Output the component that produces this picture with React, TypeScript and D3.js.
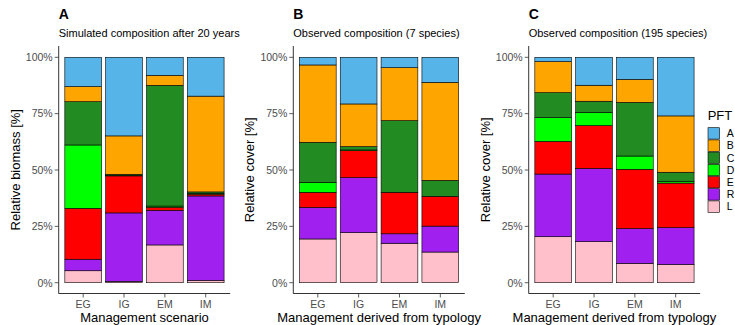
import React from 'react';
import * as d3 from 'd3';

const scenarios = ['EG', 'IG', 'EM', 'IM'];
const pftKeys = ['A', 'B', 'C', 'D', 'E', 'R', 'L'];
const pftColors = ['#56B4E9', '#FFA500', '#228B22', '#00FF00', '#FF0000', '#A020F0', '#FFC0CB'];

// rows follow pftKeys (A..L), columns follow scenarios (EG, IG, EM, IM)
const simulated = [
  [13.0, 34.8, 8.0, 17.2],
  [6.7, 17.0, 4.4, 42.4],
  [19.2, 0.6, 53.4, 0.7],
  [28.1, 0.1, 0.5, 0.3],
  [22.6, 16.4, 1.4, 0.8],
  [5.1, 30.3, 15.3, 37.4],
  [5.3, 0.6, 16.7, 1.0],
];
const observed7 = [
  [3.4, 20.7, 4.6, 11.1],
  [34.3, 18.9, 23.5, 43.5],
  [17.8, 1.5, 31.8, 7.1],
  [4.4, 0.3, 0, 0],
  [6.7, 12.0, 18.4, 13.2],
  [14.0, 24.4, 4.2, 11.5],
  [19.4, 22.2, 17.5, 13.6],
];
const observed195 = [
  [1.9, 12.4, 9.8, 26.0],
  [13.8, 7.1, 10.2, 25.0],
  [11.1, 4.9, 23.8, 4.0],
  [10.5, 5.9, 5.9, 0.8],
  [14.5, 19.0, 26.3, 19.8],
  [27.8, 32.5, 15.4, 16.3],
  [20.4, 18.2, 8.6, 8.1],
];
const yTicks = [0, 0.25, 0.5, 0.75, 1];

const panels = [
  { tag: 'A', sub: 'Simulated composition after 20 years', ytitle: 'Relative biomass [%]', xtitle: 'Management scenario', data: simulated, left: 58.7 },
  { tag: 'B', sub: 'Observed composition (7 species)', ytitle: 'Relative cover [%]', xtitle: 'Management derived from typology', data: observed7, left: 293.3 },
  { tag: 'C', sub: 'Observed composition (195 species)', ytitle: 'Relative cover [%]', xtitle: 'Management derived from typology', data: observed195, left: 528.7 },
];

const panelW = 171.5;
const top = 46;
const bottom = 293.5;
const font = '"Liberation Sans", Arial, sans-serif';

const y = d3.scaleLinear().domain([0, 1]).range([282.7, 57.3]);

function Panel({ p }: { p: typeof panels[0] }) {
  const x = d3.scaleBand().domain(scenarios).range([p.left, p.left + panelW]).paddingInner(0.1).paddingOuter(0.15);
  const rows = scenarios.map((s, j) => {
    const r: any = { s };
    pftKeys.forEach((k, i) => (r[k] = p.data[i][j]));
    return r;
  });
  // bottom-up stacking: L first, A on top
  const series = d3.stack<any>().keys([...pftKeys].reverse()).offset(d3.stackOffsetExpand)(rows);
  const cx = p.left + panelW / 2;
  const cy = (top + bottom) / 2;
  return (
    <g>
      <text x={p.left} y={19.3} fontSize={14} fontWeight="bold" fill="#000">{p.tag}</text>
      <text x={p.left} y={37.3} fontSize={11} fill="#000">{p.sub}</text>
      {series.map((ser) => {
        const color = pftColors[pftKeys.indexOf(ser.key)];
        return ser.map((d, j) =>
          d[1] - d[0] > 0 ? (
            <rect key={ser.key + j} x={x(scenarios[j])} width={x.bandwidth()} y={y(d[1])} height={y(d[0]) - y(d[1])}
              fill={color} stroke="#000" strokeWidth={0.6} />
          ) : null
        );
      })}
      <line x1={p.left} x2={p.left} y1={top} y2={bottom} stroke="#000" strokeWidth={0.8} />
      <line x1={p.left} x2={p.left + panelW} y1={bottom} y2={bottom} stroke="#000" strokeWidth={0.8} />
      {yTicks.map((t) => (
        <g key={t}>
          <line x1={p.left - 4} x2={p.left} y1={y(t)} y2={y(t)} stroke="#333" strokeWidth={0.8} />
          <text x={p.left - 6} y={y(t) + 3.8} fontSize={10.5} textAnchor="end" fill="#4d4d4d">{d3.format('.0%')(t)}</text>
        </g>
      ))}
      {scenarios.map((s) => {
        const c = (x(s) as number) + x.bandwidth() / 2;
        return (
          <g key={s}>
            <line x1={c} x2={c} y1={bottom} y2={bottom + 4} stroke="#333" strokeWidth={0.8} />
            <text x={c} y={308} fontSize={10.5} textAnchor="middle" fill="#4d4d4d">{s}</text>
          </g>
        );
      })}
      <text x={cx} y={322} fontSize={13} textAnchor="middle" fill="#000">{p.xtitle}</text>
      <text transform={`translate(${p.left - 39},${cy}) rotate(-90)`} fontSize={13} textAnchor="middle" fill="#000">{p.ytitle}</text>
    </g>
  );
}

export default function App() {
  const keyY = d3.scaleBand().domain(pftKeys).range([127.3, 127.3 + 12.2 * 7]);
  return (
    <svg width={735} height={325} style={{ position: 'absolute', left: 0, top: 0, background: '#fff' }} fontFamily={font}>
      <rect width={735} height={325} fill="#fff" />
      {panels.map((p) => <Panel key={p.tag} p={p} />)}
      <text x={707.7} y={119.5} fontSize={13} fill="#000">PFT</text>
      {pftKeys.map((k, i) => (
        <g key={k}>
          <rect x={708} y={(keyY(k) as number) + 0.4} width={11.6} height={11.4} fill={pftColors[i]} stroke="#000" strokeWidth={0.6} />
          <text x={726.7} y={(keyY(k) as number) + 9.8} fontSize={10.5} fill="#000">{k}</text>
        </g>
      ))}
    </svg>
  );
}
